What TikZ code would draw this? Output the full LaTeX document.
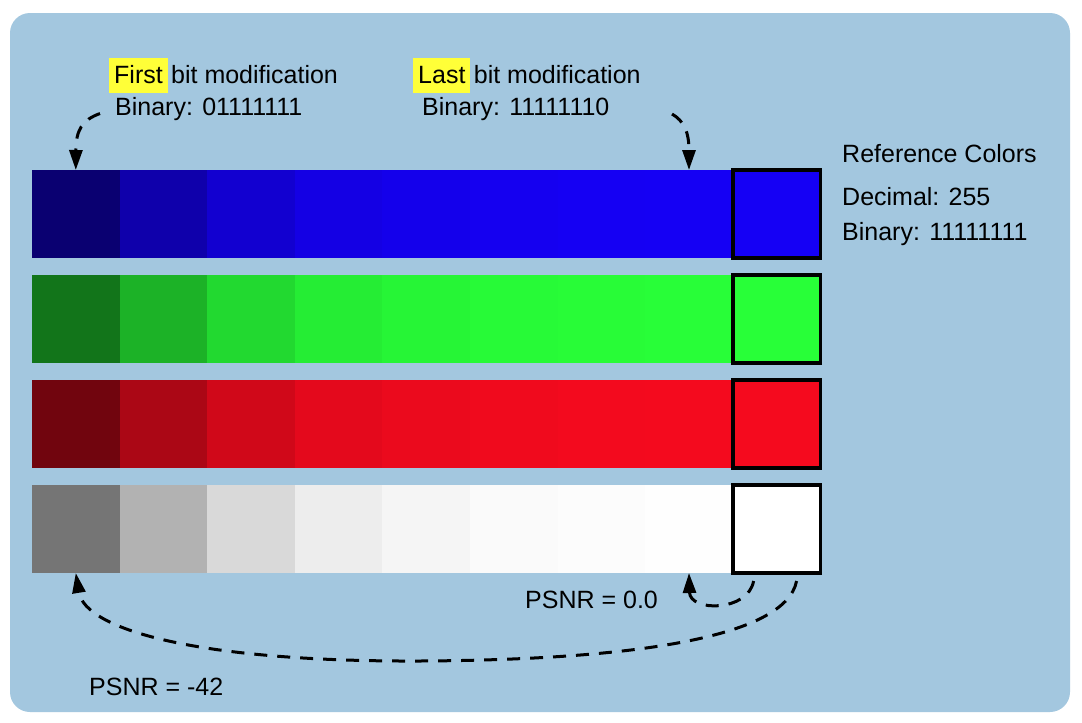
\documentclass[tikz,border=0pt]{standalone}
\usepackage{fontspec}
\setmainfont{Liberation Sans}
\usepackage{xcolor}
\usetikzlibrary{arrows.meta}
\definecolor{panel}{RGB}{163,199,223}
\definecolor{hlyellow}{RGB}{255,255,56}
\definecolor{bluebase}{RGB}{21,0,245}
\definecolor{greenbase}{RGB}{40,255,56}
\definecolor{redbase}{RGB}{245,10,30}
\definecolor{graybase}{RGB}{255,255,255}
\tikzstyle{cell}=[inner sep=0pt, outer sep=0pt, minimum width=87.6pt, minimum height=88pt]
\tikzstyle{refcell}=[cell, draw=black, line width=3.5pt]
\tikzstyle{txt}=[anchor=base west, inner sep=0pt, font=\fontsize{25}{29}\selectfont]
\tikzstyle{hlbox}=[txt, fill=hlyellow, inner xsep=5pt, inner ysep=7pt, text height=18pt, text depth=3pt]
\tikzstyle{bitarrow}=[line width=3pt, dash pattern=on 13pt off 10pt, -{Triangle[length=20pt,width=13pt]}]

\begin{document}
\begin{tikzpicture}[x=1pt, y=-1pt]

		\useasboundingbox[fill=white] (0,0) rectangle (1082,723);
		\fill[panel, rounded corners=20pt] (10,13) rectangle (1070,712);

		\foreach \row/\base [count=\r] in {blue/bluebase, green/greenbase, red/redbase, gray/graybase} {
			\foreach \c/\pct in {1/46, 2/70, 3/85, 4/93, 5/96, 6/98, 7/99, 8/99.5}
				\node[cell, fill=\base!\pct!black] (\row\c) at ({32+(\c-0.5)*87.6}, {214+(\r-1)*105}) {};
			\node[refcell, fill=\base] (ref\row) at ({32+8.5*87.6}, {214+(\r-1)*105}) {};
		}

		\node[hlbox] (first) at (109,83) {First};
		\node[txt] (firstrest) at ([xshift=3pt]first.base east) {bit modification};
		\node[txt] (binfirst) at (115,115) {Binary: 01111111};

		\node[hlbox] (last) at (413,83) {Last};
		\node[txt] (lastrest) at ([xshift=3pt]last.base east) {bit modification};
		\node[txt] (binlast) at (422,115) {Binary: 11111110};
		\coordinate (lastfrom) at (672,114);

		\node[txt] (refhead) at (842,162) {Reference Colors};
		\node[txt] (refdec) at (842,205) {Decimal: 255};
		\node[txt] (refbin) at (842,240) {Binary: 11111111};

		\node[txt] (psnrlast) at (525,608) {PSNR = 0.0};
		\node[txt] (psnrfirst) at (89,695) {PSNR = -42};

		\draw[bitarrow] ([xshift=-15pt,yshift=-5pt]binfirst.west) .. controls (82,120) and (76,130) .. (blue1.north);
		\draw[bitarrow] (lastfrom) .. controls (684,121) and (689,132) .. (blue8.north);

		\draw[bitarrow] ([xshift=-23pt,yshift=-8pt]refgray.south) .. controls (748,612) and (690,612) .. (gray8.south);
		\draw[bitarrow] ([xshift=20pt,yshift=-8pt]refgray.south) .. controls (785,640) and (620,660) .. (420,661) .. controls (200,662) and (85,630) .. (gray1.south);

\end{tikzpicture}
\end{document}
